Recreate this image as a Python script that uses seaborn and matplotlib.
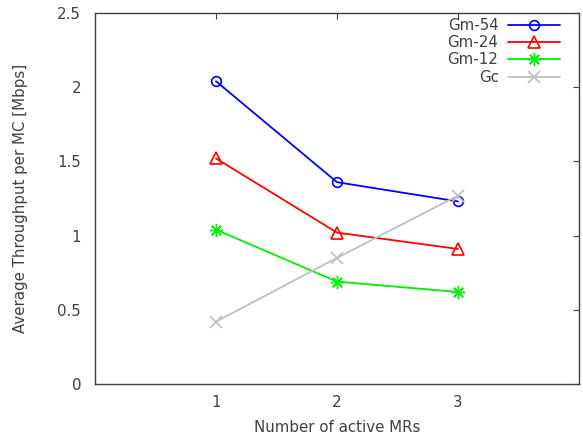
import matplotlib
matplotlib.use("Agg")
import matplotlib.pyplot as plt
import seaborn as sns
import pandas as pd

mrs = [1, 2, 3]
gm54 = [2.04, 1.36, 1.23]
gm24 = [1.52, 1.02, 0.91]
gm12 = [1.04, 0.69, 0.62]
gc = [0.42, 0.85, 1.27]
series_names = ["Gm-54", "Gm-24", "Gm-12", "Gc"]
colors = ["#0000ff", "#ff0000", "#00ee00", "#c0c0c0"]
markers = ["o", "^", (8, 2, 0), "x"]
msizes = [7, 8.5, 9.5, 9]
mews = [1.2, 1.2, 1.0, 1.2]
xticks = [1, 2, 3]
yticks = [0, 0.5, 1, 1.5, 2, 2.5]
ytick_labels = ["0", "0.5", "1", "1.5", "2", "2.5"]

sns.set_style("white")
plt.rcParams["font.family"] = ["DejaVu Sans"]
txt = "#404040"
fs = 10.8

fig = plt.figure(figsize=(5.83, 4.41), dpi=100)
ax = fig.add_axes([95 / 583, 57 / 441, 484 / 583, 371 / 441])

for name, vals, c, m, ms, mew in zip(series_names, [gm54, gm24, gm12, gc], colors, markers, msizes, mews):
    df = pd.DataFrame({"x": mrs, "y": vals})
    sns.lineplot(data=df, x="x", y="y", ax=ax, color=c, marker=m, label=name,
                 linewidth=1.3, markersize=ms,
                 markerfacecolor="none", markeredgecolor=c, markeredgewidth=mew)

for ln in ax.lines:
    ln.set_markerfacecolor("none")

ax.set_xlim(0, 4)
ax.set_ylim(0, 2.5)
ax.set_xticks(xticks)
ax.set_xticklabels([str(v) for v in xticks])
ax.set_yticks(yticks)
ax.set_yticklabels(ytick_labels)
ax.tick_params(direction="in", length=4, width=0.8, color="#404040",
               labelcolor=txt, labelsize=fs, top=True, right=True, pad=8)
ax.tick_params(axis="y", pad=10)
for s in ax.spines.values():
    s.set_color("#404040")
    s.set_linewidth(1.0)

ax.set_xlabel("Number of active MRs", color=txt, fontsize=fs, labelpad=7)
ax.set_ylabel("Average Throughput per MC [Mbps]", color=txt, fontsize=fs, labelpad=21)

leg = ax.legend(loc="upper right", frameon=False, markerfirst=False,
                fontsize=fs, handlelength=3.5, labelspacing=0.15,
                borderaxespad=0, borderpad=0, handletextpad=0.6,
                bbox_to_anchor=(560 / 583, 1 - 18 / 441),
                bbox_transform=fig.transFigure)
for t in leg.get_texts():
    t.set_color(txt)
    t.set_ha("right")

fig.savefig("out.png", dpi=100)
